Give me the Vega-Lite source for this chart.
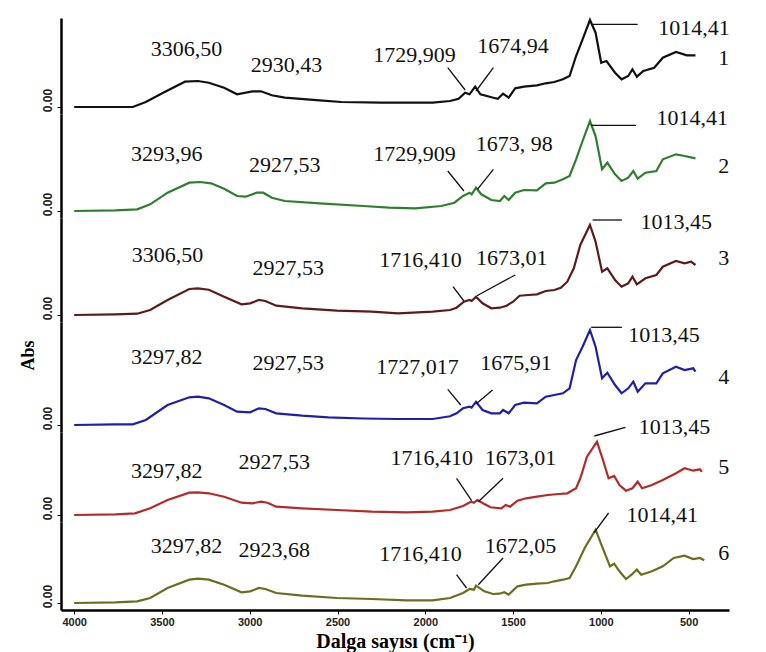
{
"$schema": "https://vega.github.io/schema/vega-lite/v6.json",
"padding": {"left": 19, "top": 15, "right": 5, "bottom": 2},
"background": "white",
"bounds": "flush",
"config": {"view": {"stroke": null}, "font": "Liberation Serif"},
"spacing": 0,
"datasets": {
"spectra": [
{"s":1,"wn":4000,"a":0},{"s":1,"wn":3766,"a":0},{"s":1,"wn":3666,"a":0},{"s":1,"wn":3592,"a":0.05},{"s":1,"wn":3493,"a":0.143},{"s":1,"wn":3369,"a":0.253},{"s":1,"wn":3295,"a":0.26},{"s":1,"wn":3233,"a":0.243},{"s":1,"wn":3146,"a":0.193},{"s":1,"wn":3072,"a":0.127},{"s":1,"wn":2985,"a":0.157},{"s":1,"wn":2936,"a":0.157},{"s":1,"wn":2874,"a":0.117},{"s":1,"wn":2800,"a":0.093},{"s":1,"wn":2602,"a":0.067},{"s":1,"wn":2478,"a":0.05},{"s":1,"wn":2255,"a":0.043},{"s":1,"wn":1958,"a":0.043},{"s":1,"wn":1859,"a":0.06},{"s":1,"wn":1810,"a":0.083},{"s":1,"wn":1773,"a":0.143},{"s":1,"wn":1748,"a":0.127},{"s":1,"wn":1716,"a":0.203},{"s":1,"wn":1686,"a":0.127},{"s":1,"wn":1612,"a":0.093},{"s":1,"wn":1587,"a":0.083},{"s":1,"wn":1557,"a":0.133},{"s":1,"wn":1525,"a":0.093},{"s":1,"wn":1488,"a":0.187},{"s":1,"wn":1438,"a":0.203},{"s":1,"wn":1364,"a":0.217},{"s":1,"wn":1314,"a":0.237},{"s":1,"wn":1265,"a":0.25},{"s":1,"wn":1216,"a":0.277},{"s":1,"wn":1178,"a":0.31},{"s":1,"wn":1141,"a":0.51},{"s":1,"wn":1104,"a":0.677},{"s":1,"wn":1062,"a":0.87},{"s":1,"wn":1030,"a":0.743},{"s":1,"wn":998,"a":0.443},{"s":1,"wn":968,"a":0.46},{"s":1,"wn":919,"a":0.343},{"s":1,"wn":882,"a":0.277},{"s":1,"wn":844,"a":0.31},{"s":1,"wn":820,"a":0.377},{"s":1,"wn":795,"a":0.303},{"s":1,"wn":758,"a":0.36},{"s":1,"wn":696,"a":0.393},{"s":1,"wn":647,"a":0.493},{"s":1,"wn":572,"a":0.55},{"s":1,"wn":510,"a":0.517},{"s":1,"wn":461,"a":0.517},
{"s":2,"wn":4000,"a":0},{"s":2,"wn":3765,"a":0.007},{"s":2,"wn":3641,"a":0.017},{"s":2,"wn":3567,"a":0.067},{"s":2,"wn":3468,"a":0.183},{"s":2,"wn":3344,"a":0.283},{"s":2,"wn":3282,"a":0.29},{"s":2,"wn":3220,"a":0.277},{"s":2,"wn":3146,"a":0.223},{"s":2,"wn":3072,"a":0.15},{"s":2,"wn":3023,"a":0.143},{"s":2,"wn":2960,"a":0.183},{"s":2,"wn":2923,"a":0.183},{"s":2,"wn":2874,"a":0.133},{"s":2,"wn":2800,"a":0.1},{"s":2,"wn":2602,"a":0.077},{"s":2,"wn":2354,"a":0.05},{"s":2,"wn":2206,"a":0.033},{"s":2,"wn":2057,"a":0.027},{"s":2,"wn":1909,"a":0.05},{"s":2,"wn":1834,"a":0.083},{"s":2,"wn":1785,"a":0.15},{"s":2,"wn":1748,"a":0.183},{"s":2,"wn":1736,"a":0.167},{"s":2,"wn":1711,"a":0.233},{"s":2,"wn":1681,"a":0.167},{"s":2,"wn":1624,"a":0.11},{"s":2,"wn":1575,"a":0.1},{"s":2,"wn":1550,"a":0.15},{"s":2,"wn":1525,"a":0.11},{"s":2,"wn":1488,"a":0.183},{"s":2,"wn":1438,"a":0.21},{"s":2,"wn":1364,"a":0.207},{"s":2,"wn":1314,"a":0.277},{"s":2,"wn":1265,"a":0.283},{"s":2,"wn":1216,"a":0.317},{"s":2,"wn":1178,"a":0.35},{"s":2,"wn":1141,"a":0.517},{"s":2,"wn":1104,"a":0.7},{"s":2,"wn":1062,"a":0.9},{"s":2,"wn":1030,"a":0.75},{"s":2,"wn":993,"a":0.417},{"s":2,"wn":963,"a":0.483},{"s":2,"wn":919,"a":0.367},{"s":2,"wn":882,"a":0.3},{"s":2,"wn":844,"a":0.333},{"s":2,"wn":815,"a":0.4},{"s":2,"wn":790,"a":0.323},{"s":2,"wn":746,"a":0.383},{"s":2,"wn":684,"a":0.4},{"s":2,"wn":647,"a":0.517},{"s":2,"wn":572,"a":0.567},{"s":2,"wn":523,"a":0.55},{"s":2,"wn":461,"a":0.527},
{"s":3,"wn":4000,"a":0},{"s":3,"wn":3765,"a":0.007},{"s":3,"wn":3641,"a":0.013},{"s":3,"wn":3567,"a":0.05},{"s":3,"wn":3468,"a":0.15},{"s":3,"wn":3344,"a":0.26},{"s":3,"wn":3295,"a":0.267},{"s":3,"wn":3233,"a":0.253},{"s":3,"wn":3146,"a":0.183},{"s":3,"wn":3047,"a":0.107},{"s":3,"wn":2998,"a":0.117},{"s":3,"wn":2948,"a":0.15},{"s":3,"wn":2911,"a":0.14},{"s":3,"wn":2849,"a":0.093},{"s":3,"wn":2701,"a":0.067},{"s":3,"wn":2503,"a":0.043},{"s":3,"wn":2305,"a":0.033},{"s":3,"wn":2156,"a":0.017},{"s":3,"wn":1958,"a":0.033},{"s":3,"wn":1859,"a":0.05},{"s":3,"wn":1822,"a":0.073},{"s":3,"wn":1780,"a":0.133},{"s":3,"wn":1748,"a":0.15},{"s":3,"wn":1736,"a":0.14},{"s":3,"wn":1711,"a":0.183},{"s":3,"wn":1674,"a":0.117},{"s":3,"wn":1624,"a":0.067},{"s":3,"wn":1575,"a":0.073},{"s":3,"wn":1537,"a":0.093},{"s":3,"wn":1500,"a":0.133},{"s":3,"wn":1463,"a":0.193},{"s":3,"wn":1413,"a":0.2},{"s":3,"wn":1364,"a":0.207},{"s":3,"wn":1314,"a":0.24},{"s":3,"wn":1265,"a":0.25},{"s":3,"wn":1228,"a":0.273},{"s":3,"wn":1191,"a":0.333},{"s":3,"wn":1154,"a":0.467},{"s":3,"wn":1117,"a":0.7},{"s":3,"wn":1062,"a":0.9},{"s":3,"wn":1030,"a":0.733},{"s":3,"wn":993,"a":0.433},{"s":3,"wn":963,"a":0.467},{"s":3,"wn":919,"a":0.35},{"s":3,"wn":882,"a":0.283},{"s":3,"wn":844,"a":0.317},{"s":3,"wn":820,"a":0.383},{"s":3,"wn":795,"a":0.307},{"s":3,"wn":746,"a":0.367},{"s":3,"wn":684,"a":0.4},{"s":3,"wn":647,"a":0.483},{"s":3,"wn":572,"a":0.54},{"s":3,"wn":523,"a":0.517},{"s":3,"wn":486,"a":0.533},{"s":3,"wn":461,"a":0.5},
{"s":4,"wn":4000,"a":0},{"s":4,"wn":3765,"a":0.007},{"s":4,"wn":3666,"a":0.007},{"s":4,"wn":3592,"a":0.05},{"s":4,"wn":3468,"a":0.2},{"s":4,"wn":3344,"a":0.277},{"s":4,"wn":3295,"a":0.283},{"s":4,"wn":3233,"a":0.267},{"s":4,"wn":3146,"a":0.2},{"s":4,"wn":3072,"a":0.133},{"s":4,"wn":2998,"a":0.127},{"s":4,"wn":2948,"a":0.167},{"s":4,"wn":2911,"a":0.16},{"s":4,"wn":2849,"a":0.117},{"s":4,"wn":2701,"a":0.093},{"s":4,"wn":2552,"a":0.077},{"s":4,"wn":2354,"a":0.065},{"s":4,"wn":2156,"a":0.06},{"s":4,"wn":1958,"a":0.06},{"s":4,"wn":1859,"a":0.087},{"s":4,"wn":1822,"a":0.117},{"s":4,"wn":1785,"a":0.167},{"s":4,"wn":1748,"a":0.183},{"s":4,"wn":1736,"a":0.173},{"s":4,"wn":1711,"a":0.233},{"s":4,"wn":1674,"a":0.15},{"s":4,"wn":1624,"a":0.117},{"s":4,"wn":1575,"a":0.117},{"s":4,"wn":1557,"a":0.15},{"s":4,"wn":1525,"a":0.117},{"s":4,"wn":1488,"a":0.2},{"s":4,"wn":1438,"a":0.223},{"s":4,"wn":1364,"a":0.217},{"s":4,"wn":1314,"a":0.283},{"s":4,"wn":1265,"a":0.3},{"s":4,"wn":1216,"a":0.317},{"s":4,"wn":1178,"a":0.367},{"s":4,"wn":1141,"a":0.65},{"s":4,"wn":1104,"a":0.783},{"s":4,"wn":1062,"a":0.95},{"s":4,"wn":1030,"a":0.783},{"s":4,"wn":993,"a":0.467},{"s":4,"wn":963,"a":0.523},{"s":4,"wn":919,"a":0.4},{"s":4,"wn":882,"a":0.317},{"s":4,"wn":844,"a":0.367},{"s":4,"wn":815,"a":0.433},{"s":4,"wn":790,"a":0.333},{"s":4,"wn":746,"a":0.417},{"s":4,"wn":684,"a":0.417},{"s":4,"wn":647,"a":0.517},{"s":4,"wn":572,"a":0.583},{"s":4,"wn":523,"a":0.55},{"s":4,"wn":474,"a":0.567},{"s":4,"wn":461,"a":0.533},
{"s":5,"wn":4000,"a":0},{"s":5,"wn":3765,"a":0.007},{"s":5,"wn":3654,"a":0.017},{"s":5,"wn":3567,"a":0.067},{"s":5,"wn":3468,"a":0.15},{"s":5,"wn":3344,"a":0.223},{"s":5,"wn":3295,"a":0.227},{"s":5,"wn":3233,"a":0.217},{"s":5,"wn":3146,"a":0.183},{"s":5,"wn":3047,"a":0.123},{"s":5,"wn":2985,"a":0.117},{"s":5,"wn":2936,"a":0.133},{"s":5,"wn":2899,"a":0.123},{"s":5,"wn":2849,"a":0.083},{"s":5,"wn":2701,"a":0.067},{"s":5,"wn":2503,"a":0.05},{"s":5,"wn":2305,"a":0.033},{"s":5,"wn":2107,"a":0.027},{"s":5,"wn":1958,"a":0.033},{"s":5,"wn":1859,"a":0.05},{"s":5,"wn":1785,"a":0.09},{"s":5,"wn":1740,"a":0.133},{"s":5,"wn":1723,"a":0.123},{"s":5,"wn":1703,"a":0.15},{"s":5,"wn":1671,"a":0.117},{"s":5,"wn":1629,"a":0.077},{"s":5,"wn":1567,"a":0.067},{"s":5,"wn":1542,"a":0.1},{"s":5,"wn":1517,"a":0.083},{"s":5,"wn":1475,"a":0.143},{"s":5,"wn":1426,"a":0.167},{"s":5,"wn":1364,"a":0.183},{"s":5,"wn":1302,"a":0.2},{"s":5,"wn":1240,"a":0.21},{"s":5,"wn":1191,"a":0.217},{"s":5,"wn":1141,"a":0.267},{"s":5,"wn":1117,"a":0.367},{"s":5,"wn":1079,"a":0.583},{"s":5,"wn":1022,"a":0.733},{"s":5,"wn":988,"a":0.55},{"s":5,"wn":956,"a":0.367},{"s":5,"wn":924,"a":0.39},{"s":5,"wn":894,"a":0.3},{"s":5,"wn":857,"a":0.243},{"s":5,"wn":820,"a":0.267},{"s":5,"wn":790,"a":0.333},{"s":5,"wn":765,"a":0.267},{"s":5,"wn":709,"a":0.3},{"s":5,"wn":647,"a":0.35},{"s":5,"wn":572,"a":0.417},{"s":5,"wn":523,"a":0.467},{"s":5,"wn":474,"a":0.443},{"s":5,"wn":436,"a":0.457},{"s":5,"wn":424,"a":0.433},
{"s":6,"wn":4000,"a":0},{"s":6,"wn":3765,"a":0.007},{"s":6,"wn":3641,"a":0.017},{"s":6,"wn":3567,"a":0.05},{"s":6,"wn":3468,"a":0.15},{"s":6,"wn":3344,"a":0.233},{"s":6,"wn":3295,"a":0.243},{"s":6,"wn":3233,"a":0.233},{"s":6,"wn":3146,"a":0.183},{"s":6,"wn":3047,"a":0.107},{"s":6,"wn":2998,"a":0.117},{"s":6,"wn":2948,"a":0.15},{"s":6,"wn":2911,"a":0.14},{"s":6,"wn":2849,"a":0.1},{"s":6,"wn":2701,"a":0.073},{"s":6,"wn":2503,"a":0.05},{"s":6,"wn":2305,"a":0.04},{"s":6,"wn":2107,"a":0.027},{"s":6,"wn":1958,"a":0.027},{"s":6,"wn":1859,"a":0.05},{"s":6,"wn":1785,"a":0.1},{"s":6,"wn":1748,"a":0.14},{"s":6,"wn":1723,"a":0.133},{"s":6,"wn":1711,"a":0.173},{"s":6,"wn":1664,"a":0.117},{"s":6,"wn":1614,"a":0.09},{"s":6,"wn":1577,"a":0.093},{"s":6,"wn":1550,"a":0.107},{"s":6,"wn":1525,"a":0.083},{"s":6,"wn":1475,"a":0.167},{"s":6,"wn":1426,"a":0.183},{"s":6,"wn":1364,"a":0.193},{"s":6,"wn":1302,"a":0.2},{"s":6,"wn":1265,"a":0.217},{"s":6,"wn":1216,"a":0.233},{"s":6,"wn":1178,"a":0.25},{"s":6,"wn":1141,"a":0.367},{"s":6,"wn":1092,"a":0.55},{"s":6,"wn":1030,"a":0.733},{"s":6,"wn":993,"a":0.567},{"s":6,"wn":948,"a":0.367},{"s":6,"wn":924,"a":0.393},{"s":6,"wn":894,"a":0.317},{"s":6,"wn":857,"a":0.24},{"s":6,"wn":825,"a":0.283},{"s":6,"wn":795,"a":0.333},{"s":6,"wn":770,"a":0.283},{"s":6,"wn":709,"a":0.317},{"s":6,"wn":647,"a":0.367},{"s":6,"wn":585,"a":0.45},{"s":6,"wn":523,"a":0.473},{"s":6,"wn":474,"a":0.44},{"s":6,"wn":436,"a":0.45},{"s":6,"wn":411,"a":0.427}
],
"labels": [
{"s":1,"wn":3360,"a":0.58,"t":"3306,50"},{"s":1,"wn":2790,"a":0.417,"t":"2930,43"},{"s":1,"wn":2062,"a":0.517,"t":"1729,909"},{"s":1,"wn":1500,"a":0.61,"t":"1674,94"},{"s":1,"wn":470,"a":0.793,"t":"1014,41"},{"s":1,"wn":300,"a":0.493,"t":"1"},
{"s":2,"wn":3473,"a":0.567,"t":"3293,96"},{"s":2,"wn":2800,"a":0.457,"t":"2927,53"},{"s":2,"wn":2062,"a":0.567,"t":"1729,909"},{"s":2,"wn":1493,"a":0.667,"t":"1673, 98"},{"s":2,"wn":480,"a":0.933,"t":"1014,41"},{"s":2,"wn":300,"a":0.45,"t":"2"},
{"s":3,"wn":3468,"a":0.6,"t":"3306,50"},{"s":3,"wn":2780,"a":0.473,"t":"2927,53"},{"s":3,"wn":2027,"a":0.55,"t":"1716,410"},{"s":3,"wn":1508,"a":0.567,"t":"1673,01"},{"s":3,"wn":570,"a":0.927,"t":"1013,45"},{"s":3,"wn":300,"a":0.567,"t":"3"},
{"s":4,"wn":3473,"a":0.683,"t":"3297,82"},{"s":4,"wn":2780,"a":0.617,"t":"2927,53"},{"s":4,"wn":2045,"a":0.583,"t":"1727,017"},{"s":4,"wn":1483,"a":0.623,"t":"1675,91"},{"s":4,"wn":640,"a":0.9,"t":"1013,45"},{"s":4,"wn":300,"a":0.483,"t":"4"},
{"s":5,"wn":3473,"a":0.443,"t":"3297,82"},{"s":5,"wn":2860,"a":0.533,"t":"2927,53"},{"s":5,"wn":1963,"a":0.567,"t":"1716,410"},{"s":5,"wn":1458,"a":0.567,"t":"1673,01"},{"s":5,"wn":580,"a":0.877,"t":"1013,45"},{"s":5,"wn":300,"a":0.483,"t":"5"},
{"s":6,"wn":3360,"a":0.567,"t":"3297,82"},{"s":6,"wn":2860,"a":0.533,"t":"2923,68"},{"s":6,"wn":2027,"a":0.493,"t":"1716,410"},{"s":6,"wn":1458,"a":0.567,"t":"1672,05"},{"s":6,"wn":650,"a":0.883,"t":"1014,41"},{"s":6,"wn":300,"a":0.5,"t":"6"}
],
"leaders": [
{"s":1,"wn":1872,"a":0.393,"wn2":1773,"a2":0.17},{"s":1,"wn":1612,"a":0.393,"wn2":1711,"a2":0.16},{"s":1,"wn":1047,"a":0.827,"wn2":790,"a2":0.827},
{"s":2,"wn":1872,"a":0.4,"wn2":1780,"a2":0.2},{"s":2,"wn":1612,"a":0.417,"wn2":1703,"a2":0.217},{"s":2,"wn":1055,"a":0.857,"wn2":800,"a2":0.857},
{"s":3,"wn":1842,"a":0.283,"wn2":1780,"a2":0.14},{"s":3,"wn":1488,"a":0.4,"wn2":1706,"a2":0.193},{"s":3,"wn":1047,"a":0.95,"wn2":880,"a2":0.95},
{"s":4,"wn":1872,"a":0.357,"wn2":1798,"a2":0.2},{"s":4,"wn":1617,"a":0.35,"wn2":1711,"a2":0.21},{"s":4,"wn":1055,"a":0.977,"wn2":880,"a2":0.977},
{"s":5,"wn":1822,"a":0.367,"wn2":1736,"a2":0.143},{"s":5,"wn":1557,"a":0.367,"wn2":1698,"a2":0.133},{"s":5,"wn":1037,"a":0.79,"wn2":860,"a2":0.877},
{"s":6,"wn":1822,"a":0.283,"wn2":1765,"a2":0.15},{"s":6,"wn":1557,"a":0.45,"wn2":1698,"a2":0.183},{"s":6,"wn":1037,"a":0.707,"wn2":956,"a2":0.9}
]
},
"vconcat": [
{"width":668,"height":96,"layer":[
 {"data":{"name":"spectra"},"transform":[{"filter":"datum.s == 1"}],"mark":{"type":"line","color":"#111111","strokeWidth":2.2},
  "encoding":{"x":{"field":"wn","type":"quantitative","scale":{"domain":[270,4075],"reverse":true,"nice":false,"zero":false},"axis":null},
   "y":{"field":"a","type":"quantitative","scale":{"domain":[-0.07,0.89],"nice":false,"zero":false},"axis":{"values":[0],"format":".2f","labelAngle":-90,"labelFont":"Liberation Sans","labelFontSize":12,"labelFontWeight":"bold","labelColor":"#222","labelPadding":3,"labelOffset":-7,"tickSize":4,"tickColor":"#000","domainColor":"#000","domainWidth":2.5,"grid":false,"title":null}}}},
 {"data":{"name":"labels"},"transform":[{"filter":"datum.s == 1"}],"mark":{"type":"text","font":"Liberation Serif","fontSize":22,"color":"#111"},"encoding":{"x":{"field":"wn","type":"quantitative"},"y":{"field":"a","type":"quantitative"},"text":{"field":"t"}}},
 {"data":{"name":"leaders"},"transform":[{"filter":"datum.s == 1"}],"mark":{"type":"rule","color":"#111","strokeWidth":1.3},"encoding":{"x":{"field":"wn","type":"quantitative"},"x2":{"field":"wn2"},"y":{"field":"a","type":"quantitative"},"y2":{"field":"a2"}}}
]},
{"width":668,"height":104,"layer":[
 {"data":{"name":"spectra"},"transform":[{"filter":"datum.s == 2"}],"mark":{"type":"line","color":"#2f7f2f","strokeWidth":2.2},
  "encoding":{"x":{"field":"wn","type":"quantitative","scale":{"domain":[270,4075],"reverse":true,"nice":false,"zero":false},"axis":null},
   "y":{"field":"a","type":"quantitative","scale":{"domain":[-0.07,0.97],"nice":false,"zero":false},"axis":{"values":[0],"format":".2f","labelAngle":-90,"labelFont":"Liberation Sans","labelFontSize":12,"labelFontWeight":"bold","labelColor":"#222","labelPadding":3,"labelOffset":-7,"tickSize":4,"tickColor":"#000","domainColor":"#000","domainWidth":2.5,"grid":false,"title":null}}}},
 {"data":{"name":"labels"},"transform":[{"filter":"datum.s == 2"}],"mark":{"type":"text","font":"Liberation Serif","fontSize":22,"color":"#111"},"encoding":{"x":{"field":"wn","type":"quantitative"},"y":{"field":"a","type":"quantitative"},"text":{"field":"t"}}},
 {"data":{"name":"leaders"},"transform":[{"filter":"datum.s == 2"}],"mark":{"type":"rule","color":"#111","strokeWidth":1.3},"encoding":{"x":{"field":"wn","type":"quantitative"},"x2":{"field":"wn2"},"y":{"field":"a","type":"quantitative"},"y2":{"field":"a2"}}}
]},
{"width":668,"height":104,"layer":[
 {"data":{"name":"spectra"},"transform":[{"filter":"datum.s == 3"}],"mark":{"type":"line","color":"#5e1b1b","strokeWidth":2.2},
  "encoding":{"x":{"field":"wn","type":"quantitative","scale":{"domain":[270,4075],"reverse":true,"nice":false,"zero":false},"axis":null},
   "y":{"field":"a","type":"quantitative","scale":{"domain":[-0.07,0.97],"nice":false,"zero":false},"axis":{"values":[0],"format":".2f","labelAngle":-90,"labelFont":"Liberation Sans","labelFontSize":12,"labelFontWeight":"bold","labelColor":"#222","labelPadding":3,"labelOffset":-7,"tickSize":4,"tickColor":"#000","domainColor":"#000","domainWidth":2.5,"grid":false,"title":null}}}},
 {"data":{"name":"labels"},"transform":[{"filter":"datum.s == 3"}],"mark":{"type":"text","font":"Liberation Serif","fontSize":22,"color":"#111"},"encoding":{"x":{"field":"wn","type":"quantitative"},"y":{"field":"a","type":"quantitative"},"text":{"field":"t"}}},
 {"data":{"name":"leaders"},"transform":[{"filter":"datum.s == 3"}],"mark":{"type":"rule","color":"#111","strokeWidth":1.3},"encoding":{"x":{"field":"wn","type":"quantitative"},"x2":{"field":"wn2"},"y":{"field":"a","type":"quantitative"},"y2":{"field":"a2"}}}
]},
{"width":668,"height":110,"layer":[
 {"data":{"name":"spectra"},"transform":[{"filter":"datum.s == 4"}],"mark":{"type":"line","color":"#1f1fae","strokeWidth":2.2},
  "encoding":{"x":{"field":"wn","type":"quantitative","scale":{"domain":[270,4075],"reverse":true,"nice":false,"zero":false},"axis":null},
   "y":{"field":"a","type":"quantitative","scale":{"domain":[-0.07,1.03],"nice":false,"zero":false},"axis":{"values":[0],"format":".2f","labelAngle":-90,"labelFont":"Liberation Sans","labelFontSize":12,"labelFontWeight":"bold","labelColor":"#222","labelPadding":3,"labelOffset":-7,"tickSize":4,"tickColor":"#000","domainColor":"#000","domainWidth":2.5,"grid":false,"title":"Abs","titleFont":"Liberation Serif","titleFontSize":18,"titleFontWeight":"bold","titleColor":"#000","titleY":33,"titlePadding":4}}}},
 {"data":{"name":"labels"},"transform":[{"filter":"datum.s == 4"}],"mark":{"type":"text","font":"Liberation Serif","fontSize":22,"color":"#111"},"encoding":{"x":{"field":"wn","type":"quantitative"},"y":{"field":"a","type":"quantitative"},"text":{"field":"t"}}},
 {"data":{"name":"leaders"},"transform":[{"filter":"datum.s == 4"}],"mark":{"type":"rule","color":"#111","strokeWidth":1.3},"encoding":{"x":{"field":"wn","type":"quantitative"},"x2":{"field":"wn2"},"y":{"field":"a","type":"quantitative"},"y2":{"field":"a2"}}}
]},
{"width":668,"height":90,"layer":[
 {"data":{"name":"spectra"},"transform":[{"filter":"datum.s == 5"}],"mark":{"type":"line","color":"#b52a2a","strokeWidth":2.2},
  "encoding":{"x":{"field":"wn","type":"quantitative","scale":{"domain":[270,4075],"reverse":true,"nice":false,"zero":false},"axis":null},
   "y":{"field":"a","type":"quantitative","scale":{"domain":[-0.07,0.83],"nice":false,"zero":false},"axis":{"values":[0],"format":".2f","labelAngle":-90,"labelFont":"Liberation Sans","labelFontSize":12,"labelFontWeight":"bold","labelColor":"#222","labelPadding":3,"labelOffset":-7,"tickSize":4,"tickColor":"#000","domainColor":"#000","domainWidth":2.5,"grid":false,"title":null}}}},
 {"data":{"name":"labels"},"transform":[{"filter":"datum.s == 5"}],"mark":{"type":"text","font":"Liberation Serif","fontSize":22,"color":"#111"},"encoding":{"x":{"field":"wn","type":"quantitative"},"y":{"field":"a","type":"quantitative"},"text":{"field":"t"}}},
 {"data":{"name":"leaders"},"transform":[{"filter":"datum.s == 5"}],"mark":{"type":"rule","color":"#111","strokeWidth":1.3},"encoding":{"x":{"field":"wn","type":"quantitative"},"x2":{"field":"wn2"},"y":{"field":"a","type":"quantitative"},"y2":{"field":"a2"}}}
]},
{"width":668,"height":88,"layer":[
 {"data":{"name":"spectra"},"transform":[{"filter":"datum.s == 6"}],"mark":{"type":"line","color":"#6d6d1f","strokeWidth":2.2},
  "encoding":{"x":{"field":"wn","type":"quantitative","scale":{"domain":[270,4075],"reverse":true,"nice":false,"zero":false},
    "axis":{"values":[4000,3500,3000,2500,2000,1500,1000,500],"format":"d","labelFont":"Liberation Sans","labelFontSize":11,"labelFontWeight":"bold","labelColor":"#222","labelPadding":2,"tickSize":4,"tickColor":"#000","domainColor":"#000","domainWidth":2.5,"grid":false,"title":"Dalga sayısı (cm⁻¹)","titleFont":"Liberation Serif","titleFontSize":20,"titleFontWeight":"bold","titleColor":"#000","titlePadding":4}},
   "y":{"field":"a","type":"quantitative","scale":{"domain":[-0.07,0.81],"nice":false,"zero":false},"axis":{"values":[0],"format":".2f","labelAngle":-90,"labelFont":"Liberation Sans","labelFontSize":12,"labelFontWeight":"bold","labelColor":"#222","labelPadding":3,"labelOffset":-7,"tickSize":4,"tickColor":"#000","domainColor":"#000","domainWidth":2.5,"grid":false,"title":null}}}},
 {"data":{"name":"labels"},"transform":[{"filter":"datum.s == 6"}],"mark":{"type":"text","font":"Liberation Serif","fontSize":22,"color":"#111"},"encoding":{"x":{"field":"wn","type":"quantitative"},"y":{"field":"a","type":"quantitative"},"text":{"field":"t"}}},
 {"data":{"name":"leaders"},"transform":[{"filter":"datum.s == 6"}],"mark":{"type":"rule","color":"#111","strokeWidth":1.3},"encoding":{"x":{"field":"wn","type":"quantitative"},"x2":{"field":"wn2"},"y":{"field":"a","type":"quantitative"},"y2":{"field":"a2"}}}
]}
]
}
